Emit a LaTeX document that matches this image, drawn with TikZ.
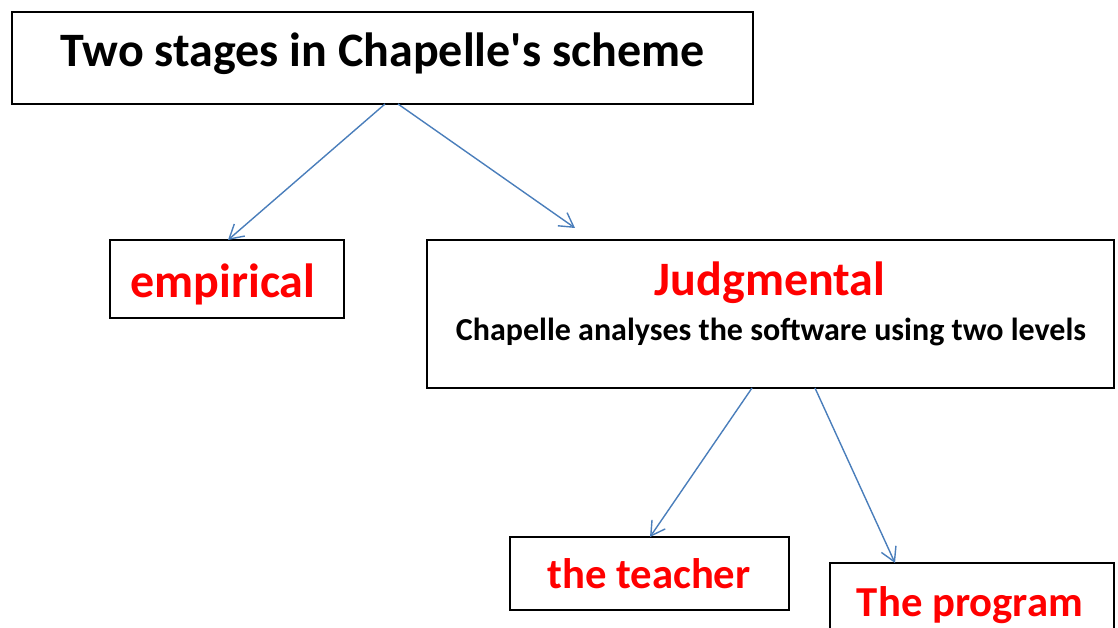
\documentclass[tikz,border=0pt]{standalone}
\usepackage{fontspec}
\setmainfont{Carlito}
\newfontfamily\titlefont{Carlito}[Ligatures=TeXOff]
\usetikzlibrary{arrows.meta}
\definecolor{arrowblue}{HTML}{4A7EBB}
\definecolor{labelred}{HTML}{FF0000}
\tikzset{
  box/.style={draw=black, line width=1.5pt, fill=white, inner sep=0pt},
  redtxt/.style={text=labelred, font=\bfseries\fontsize{48}{52}\selectfont, inner sep=0pt, anchor=base},
  smallred/.style={redtxt, font=\bfseries\fontsize{42.7}{46}\selectfont},
  conn/.style={draw=arrowblue, line width=1.4pt, -{Straight Barb[angle=60:16pt, line width=1.4pt]}},
}
\begin{document}
\begin{tikzpicture}[x=1pt,y=-1pt]
\useasboundingbox (0,0) rectangle (1118,628);
\clip (0,0) rectangle (1118,628);
% boxes
\node[box, minimum width=741pt, minimum height=92pt] (title) at (382.5,58) {};
\node[font=\titlefont\bfseries\fontsize{48}{52}\selectfont, inner sep=0pt, anchor=base] (titleT) at (382.5,67) {Two stages in Chapelle's scheme};
\node[box, minimum width=234pt, minimum height=78pt] (emp) at (227,279) {};
\node[redtxt] (empT) at (223,297) {empirical};
\node[box, minimum width=687pt, minimum height=148pt] (judg) at (770.5,314) {};
\node[redtxt] (judgT) at (770,295) {Judgmental};
\node[font=\bfseries\fontsize{32}{36}\selectfont, inner sep=0pt, anchor=base] (judgS) at (771,340) {Chapelle analyses the software using two levels};
\node[box, minimum width=279pt, minimum height=73pt] (teach) at (649.5,573.5) {};
\node[smallred] (teachT) at (649,588) {the teacher};
\node[box, minimum width=284pt, minimum height=90pt] (prog) at (972,608) {};
\node[smallred] (progT) at (970,616) {The program};
% anchor coordinates
\coordinate (t1) at (385,104);
\coordinate (t2) at (398,104);
\coordinate (e1) at (228,240);
\coordinate (j1) at (575,228);
\coordinate (b1) at (752,388);
\coordinate (b2) at (815,388);
\coordinate (c1) at (650,537);
\coordinate (p1) at (895,563);
\draw[conn] (t1) -- (e1);
\draw[conn] (t2) -- (j1);
\draw[conn] (b1) -- (c1);
\draw[conn] (b2) -- (p1);
\end{tikzpicture}
\end{document}
